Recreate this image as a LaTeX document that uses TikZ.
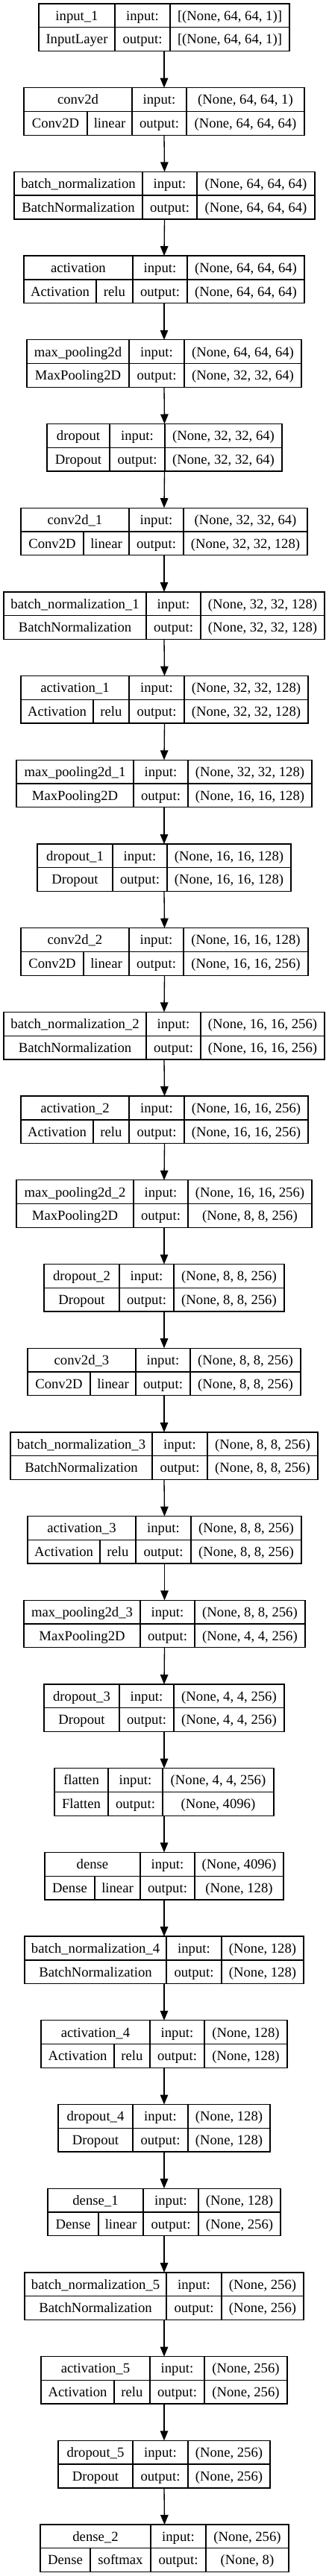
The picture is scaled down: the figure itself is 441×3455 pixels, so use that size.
\documentclass[tikz,border=0pt]{standalone}
\usepackage{fontspec}
\setmainfont{Liberation Serif}
\usetikzlibrary{arrows.meta}

\tikzset{
  layerbox/.style={draw, line width=1.33pt, inner sep=0pt, outer sep=0pt, minimum height=63.5pt},
  cell/.style={inner sep=0pt, text height=16.6pt, text depth=4pt, font=\fontsize{18.67pt}{22pt}\selectfont},
  rule/.style={line width=1.33pt},
  flow/.style={line width=1.33pt, -{Triangle[length=13pt, width=10.5pt]}}
}

\begin{document}
\begin{tikzpicture}[x=1pt, y=-1pt]
  \useasboundingbox (0,0) rectangle (441,3455);
  % Layers: index / left / split / name col / io col / right / name / class / activation / in / out
  \foreach \i/\xl/\xs/\ca/\cb/\xr/\nm/\cls/\act/\inp/\outp in {
    0/52/0/154/228/388/input\_1/InputLayer//{[(None, 64, 64, 1)]}/{[(None, 64, 64, 1)]},
    1/32/117/177/250/408/conv2d/Conv2D/linear/{(None, 64, 64, 1)}/{(None, 64, 64, 64)},
    2/19/0/191/264/422/batch\_normalization/BatchNormalization//{(None, 64, 64, 64)}/{(None, 64, 64, 64)},
    3/32/129/178/251/408/activation/Activation/relu/{(None, 64, 64, 64)}/{(None, 64, 64, 64)},
    4/36/0/173/247/404/max\_pooling2d/MaxPooling2D//{(None, 64, 64, 64)}/{(None, 32, 32, 64)},
    5/63/0/147/221/378/dropout/Dropout//{(None, 32, 32, 64)}/{(None, 32, 32, 64)},
    6/28/112/173/246/412/conv2d\_1/Conv2D/linear/{(None, 32, 32, 64)}/{(None, 32, 32, 128)},
    7/5/0/196/269/435/batch\_normalization\_1/BatchNormalization//{(None, 32, 32, 128)}/{(None, 32, 32, 128)},
    8/28/125/173/247/413/activation\_1/Activation/relu/{(None, 32, 32, 128)}/{(None, 32, 32, 128)},
    9/22/0/179/252/418/max\_pooling2d\_1/MaxPooling2D//{(None, 32, 32, 128)}/{(None, 16, 16, 128)},
    10/50/0/151/224/390/dropout\_1/Dropout//{(None, 16, 16, 128)}/{(None, 16, 16, 128)},
    11/28/112/173/246/413/conv2d\_2/Conv2D/linear/{(None, 16, 16, 128)}/{(None, 16, 16, 256)},
    12/5/0/196/269/435/batch\_normalization\_2/BatchNormalization//{(None, 16, 16, 256)}/{(None, 16, 16, 256)},
    13/28/125/173/247/413/activation\_2/Activation/relu/{(None, 16, 16, 256)}/{(None, 16, 16, 256)},
    14/22/0/179/252/418/max\_pooling2d\_2/MaxPooling2D//{(None, 16, 16, 256)}/{(None, 8, 8, 256)},
    15/59/0/160/233/381/dropout\_2/Dropout//{(None, 8, 8, 256)}/{(None, 8, 8, 256)},
    16/37/121/182/255/403/conv2d\_3/Conv2D/linear/{(None, 8, 8, 256)}/{(None, 8, 8, 256)},
    17/14/0/204/278/426/batch\_normalization\_3/BatchNormalization//{(None, 8, 8, 256)}/{(None, 8, 8, 256)},
    18/37/134/182/256/404/activation\_3/Activation/relu/{(None, 8, 8, 256)}/{(None, 8, 8, 256)},
    19/32/0/188/261/409/max\_pooling2d\_3/MaxPooling2D//{(None, 8, 8, 256)}/{(None, 4, 4, 256)},
    20/59/0/160/233/381/dropout\_3/Dropout//{(None, 4, 4, 256)}/{(None, 4, 4, 256)},
    21/73/0/145/218/367/flatten/Flatten//{(None, 4, 4, 256)}/{(None, 4096)},
    22/60/127/188/261/380/dense/Dense/linear/{(None, 4096)}/{(None, 128)},
    23/33/0/223/297/407/batch\_normalization\_4/BatchNormalization//{(None, 128)}/{(None, 128)},
    24/55/153/201/274/385/activation\_4/Activation/relu/{(None, 128)}/{(None, 128)},
    25/78/0/178/252/362/dropout\_4/Dropout//{(None, 128)}/{(None, 128)},
    26/64/132/192/266/376/dense\_1/Dense/linear/{(None, 128)}/{(None, 256)},
    27/33/0/223/297/407/batch\_normalization\_5/BatchNormalization//{(None, 256)}/{(None, 256)},
    28/55/153/201/274/385/activation\_5/Activation/relu/{(None, 256)}/{(None, 256)},
    29/78/0/178/252/362/dropout\_5/Dropout//{(None, 256)}/{(None, 256)},
    30/54/121/202/276/387/dense\_2/Dense/softmax/{(None, 256)}/{(None, 8)}
  }{
    \pgfmathsetmacro\T{5+\i*112.7}
    \node[layerbox, minimum width={(\xr-\xl)*1pt}] (L\i) at ({(\xl+\xr)/2},{\T+31.75}) {};
    % grid of the record
    \draw[rule] ({\xl},{\T+31.75}) -- ({\xr},{\T+31.75});
    \draw[rule] ({\ca},{\T}) -- ({\ca},{\T+63.5});
    \draw[rule] ({\cb},{\T}) -- ({\cb},{\T+63.5});
    % texts
    \node[cell] (name\i) at ({(\xl+\ca)/2},{\T+15.9}) {\nm};
    \node[cell] (in\i) at ({(\ca+\cb)/2},{\T+15.9}) {input:};
    \node[cell] (out\i) at ({(\ca+\cb)/2},{\T+47.6}) {output:};
    \node[cell] (ishape\i) at ({(\cb+\xr)/2},{\T+15.9}) {\inp};
    \node[cell] (oshape\i) at ({(\cb+\xr)/2},{\T+47.6}) {\outp};
    \ifnum\xs>0
      \draw[rule] ({\xs},{\T+31.75}) -- ({\xs},{\T+63.5});
      \node[cell] (cls\i) at ({(\xl+\xs)/2},{\T+47.6}) {\cls};
      \node[cell] (act\i) at ({(\xs+\ca)/2},{\T+47.6}) {\act};
    \else
      \node[cell] (cls\i) at ({(\xl+\ca)/2},{\T+47.6}) {\cls};
    \fi
  }
  % Connectors
  \foreach \i [evaluate=\i as \j using int(\i+1)] in {0,...,29}
    \draw[flow] (L\i.south) -- (L\j.north);
\end{tikzpicture}
\end{document}
